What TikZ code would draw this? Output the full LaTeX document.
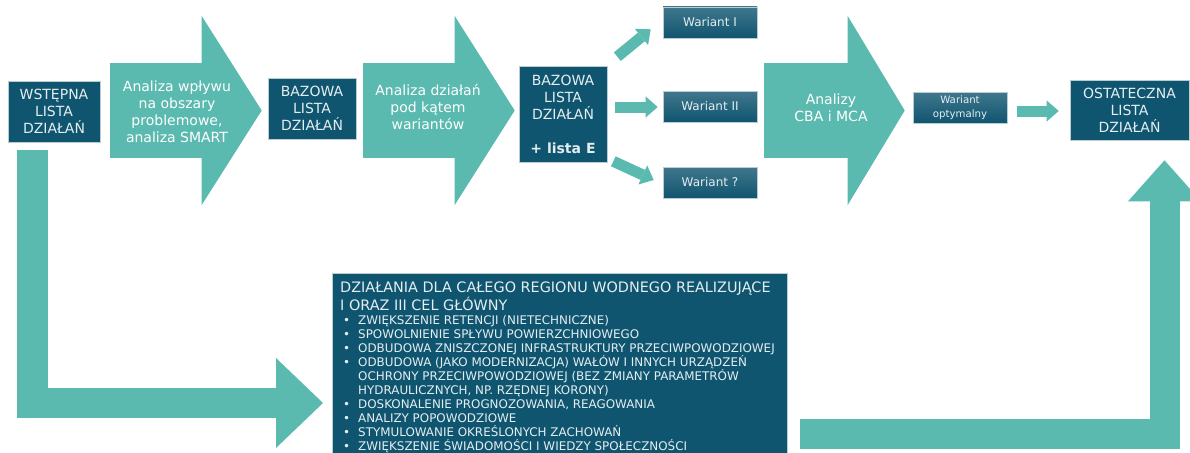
\documentclass[tikz,border=0pt]{standalone}
\usepackage{fontspec}
\setmainfont{DejaVu Sans}
\usetikzlibrary{arrows.meta}
\definecolor{morski}{HTML}{5BBAAF}
\definecolor{granat}{HTML}{105570}
\definecolor{jasny}{HTML}{E4EEF0}
\definecolor{ramka}{HTML}{B8CCD2}
\newcommand{\pkt}{\makebox[15pt][l]{\textbullet}}
\newcommand{\dalej}{\hspace*{15pt}}
\tikzset{
  lista/.style={fill=granat,draw=ramka,line width=0.6pt,text=jasny,align=center,inner sep=0pt,font=\fontsize{14}{17}\selectfont},
  wariant/.style={lista,top color=granat!80!white,bottom color=granat,minimum width=94pt,minimum height=31pt,font=\fontsize{12}{14}\selectfont},
  opis/.style={text=white,align=center,font=\fontsize{14}{17}\selectfont},
  duza/.style n args={3}{draw=morski,line width=#1,-{Triangle[width=#2,length=#3,line width=0pt]}},
  mala/.style={duza={11pt}{21pt}{12pt}}
}
\begin{document}
\begin{tikzpicture}[x=1pt,y=-1pt]
\useasboundingbox (0,0) rectangle (1190,452);
% gorny rzad
\node[lista,minimum width=92pt,minimum height=61pt] (wst) at (54,111.5) {WSTĘPNA\\LISTA\\DZIAŁAŃ};
\node[lista,minimum width=88pt,minimum height=61pt] (baz) at (312,108.5) {BAZOWA\\LISTA\\DZIAŁAŃ};
\node[lista,minimum width=88pt,minimum height=96pt] (baze) at (563,114) {BAZOWA\\LISTA\\DZIAŁAŃ\\[17pt]\textbf{+ lista E}};
\node[wariant] (w1) at (710,22.5) {Wariant I};
\node[wariant] (w2) at (710,106.5) {Wariant II};
\node[wariant] (w3) at (710,182.5) {Wariant ?};
\node[wariant,font=\fontsize{10.2}{14}\selectfont] (wopt) at (960,107.5) {Wariant\\optymalny};
\node[lista,minimum width=119pt,minimum height=60pt] (ost) at (1129.5,110) {OSTATECZNA\\LISTA\\DZIAŁAŃ};
\node[lista,minimum width=455pt,minimum height=190pt,anchor=north west] (cel) at (332,273) {};
\node[text=jasny,align=left,inner sep=0pt,anchor=north west,font=\fontsize{14.4}{16}\selectfont] (celtyt) at ([shift={(8,9)}]cel.north west)
  {DZIAŁANIA DLA CAŁEGO REGIONU WODNEGO REALIZUJĄCE\\I ORAZ III CEL GŁÓWNY};
\node[text=jasny,align=left,inner sep=0pt,anchor=north west,font=\fontsize{11.9}{14}\selectfont] (celpkt) at ([shift={(11,42)}]cel.north west)
  {\pkt ZWIĘKSZENIE RETENCJI (NIETECHNICZNE)\\
   \pkt SPOWOLNIENIE SPŁYWU POWIERZCHNIOWEGO\\
   \pkt ODBUDOWA ZNISZCZONEJ INFRASTRUKTURY PRZECIWPOWODZIOWEJ\\
   \pkt ODBUDOWA (JAKO MODERNIZACJA) WAŁÓW I INNYCH URZĄDZEŃ\\
   \dalej OCHRONY PRZECIWPOWODZIOWEJ (BEZ ZMIANY PARAMETRÓW\\
   \dalej HYDRAULICZNYCH, NP. RZĘDNEJ KORONY)\\
   \pkt DOSKONALENIE PROGNOZOWANIA, REAGOWANIA\\
   \pkt ANALIZY POPOWODZIOWE\\
   \pkt STYMULOWANIE OKREŚLONYCH ZACHOWAŃ\\
   \pkt ZWIĘKSZENIE ŚWIADOMOŚCI I WIEDZY SPOŁECZNOŚCI};
% strzalki
\draw[duza={95pt}{189pt}{60pt}] ([shift={(10,-1)}]wst.east) -- ([shift={(-6,2)}]baz.west);
\draw[duza={95pt}{189pt}{60pt}] ([shift={(7,2)}]baz.east) -- ([shift={(-4,-3.5)}]baze.west);
\draw[duza={95pt}{189pt}{57pt}] ([shift={(7,4)}]w2.east) -- ([shift={(-8,3)}]wopt.west);
\draw[mala] ([shift={(10,-9)}]baze.north east) -- ([shift={(-12,-9)}]w1.south west);
\draw[mala] ([shift={(8,-7)}]baze.east) -- ([shift={(-5,0.5)}]w2.west);
\draw[mala] ([shift={(6,-1)}]baze.south east) -- ([shift={(-9,-2.5)}]w3.west);
\draw[mala] ([shift={(10,3.5)}]wopt.east) -- ([shift={(-11,1)}]ost.west);
\draw[duza={30.5pt}{90pt}{47pt}] ([shift={(-21.5,8)}]wst.south) |- ([shift={(-9,130)}]cel.north west);
\draw[duza={30pt}{73pt}{41pt}] ([shift={(12,161)}]cel.north east) -| ([shift={(35,20)}]ost.south);
\node[opis] (t1) at (177,111.5) {Analiza wpływu\\na obszary\\problemowe,\\analiza SMART};
\node[opis] (t2) at (428,107) {Analiza działań\\pod kątem\\wariantów};
\node[opis] (t3) at (831,107.5) {Analizy\\CBA i MCA};
\end{tikzpicture}
\end{document}
